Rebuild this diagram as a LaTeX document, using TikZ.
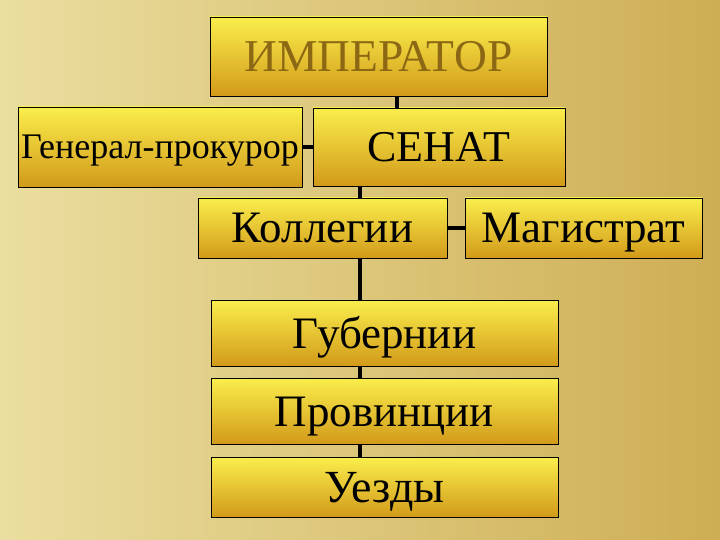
\documentclass[tikz,border=0pt]{standalone}
\usepackage{fontspec}
\setmainfont{Liberation Serif}
\usetikzlibrary{shapes,arrows}
\definecolor{boxtop}{RGB}{250,238,76}
\definecolor{boxbot}{RGB}{210,154,26}
\definecolor{bglight}{RGB}{234,222,160}
\definecolor{bgdark}{RGB}{206,174,84}
\definecolor{imptext}{RGB}{140,104,20}
\tikzstyle{block} = [rectangle, draw=black, line width=0.8pt, top color=boxtop,
    bottom color=boxbot, inner sep=0pt, text centered, text height=30pt, text depth=0pt,
    font=\fontsize{45}{50}\selectfont]
\tikzstyle{line} = [draw, line width=4pt]
\begin{document}
\begin{tikzpicture}[x=1pt, y=-1pt]
    % Background
    \useasboundingbox (0,0) rectangle (720,540);
    \fill [left color=bglight, right color=bgdark] (0,0) rectangle (720,540);
    % Place nodes
    \node [block, minimum width=337pt, minimum height=79pt, text=imptext,
        font=\fontsize{45.5}{50}\selectfont] (imp) at (378.5,56.5) {ИМПЕРАТОР};
    \node [block, below of=imp, node distance=90.5pt, xshift=60.5pt,
        minimum width=252pt, minimum height=78pt, font=\fontsize{44}{50}\selectfont] (senat) {СЕНАТ};
    \node [block, left of=senat, node distance=279pt, minimum width=284pt,
        minimum height=80pt, text height=24pt, font=\fontsize{36}{40}\selectfont] (gen) {Генерал-прокурор};
    \node [block, below of=senat, node distance=81pt, xshift=-116.5pt,
        minimum width=249pt, minimum height=60pt] (koll) {Коллегии};
    \node [block, right of=koll, node distance=261pt, minimum width=237pt,
        minimum height=60pt] (mag) {Магистрат};
    \node [block, minimum width=347pt, minimum height=66pt] (gub) at (384.5,333) {Губернии};
    \node [block, below of=gub, node distance=78pt, minimum width=347pt,
        minimum height=66pt] (prov) {Провинции};
    \node [block, below of=prov, node distance=76pt, minimum width=347pt,
        minimum height=60pt, font=\fontsize{46}{50}\selectfont] (uez) {Уезды};
    \coordinate (top) at (397,0);
    \coordinate (spine) at (360,0);
    % Draw edges
    \path [line] (imp.south -| top) -- (senat.north -| top);
    \path [line] (gen) -- (senat);
    \path [line] (senat.south -| spine) -- (koll.north -| spine);
    \path [line] (koll) -- (mag);
    \path [line] (koll.south -| spine) -- (gub.north -| spine);
    \path [line] (gub.south -| spine) -- (prov.north -| spine);
    \path [line] (prov.south -| spine) -- (uez.north -| spine);
\end{tikzpicture}
\end{document}
